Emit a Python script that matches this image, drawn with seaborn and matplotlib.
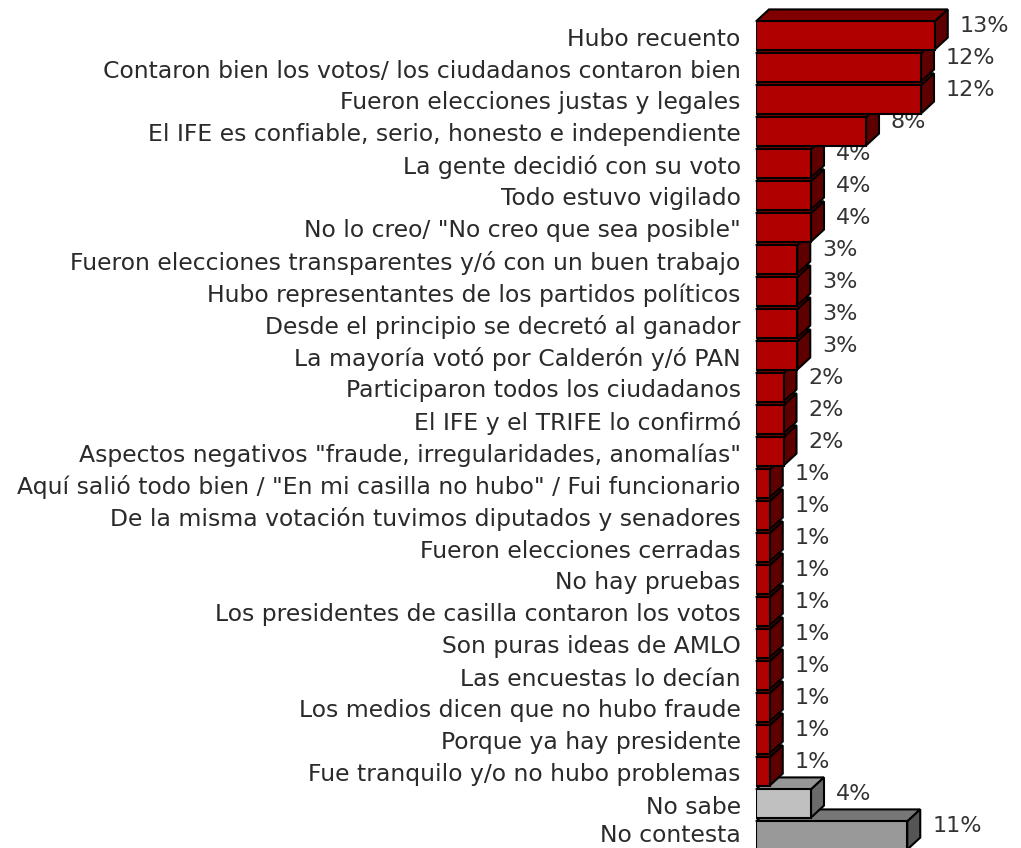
import numpy as np
import matplotlib
matplotlib.use('Agg')
import matplotlib.pyplot as plt
import matplotlib.transforms as mtrans
import seaborn as sns
from matplotlib.patches import Polygon

# respuestas y porcentajes
labels = ['Hubo recuento',
          'Contaron bien los votos/ los ciudadanos contaron bien',
          'Fueron elecciones justas y legales',
          'El IFE es confiable, serio, honesto e independiente',
          'La gente decidió con su voto',
          'Todo estuvo vigilado',
          'No lo creo/ "No creo que sea posible"',
          'Fueron elecciones transparentes y/ó con un buen trabajo',
          'Hubo representantes de los partidos políticos',
          'Desde el principio se decretó al ganador',
          'La mayoría votó por Calderón y/ó PAN',
          'Participaron todos los ciudadanos',
          'El IFE y el TRIFE lo confirmó',
          'Aspectos negativos "fraude, irregularidades, anomalías"',
          'Aquí salió todo bien / "En mi casilla no hubo" / Fui funcionario',
          'De la misma votación tuvimos diputados y senadores',
          'Fueron elecciones cerradas',
          'No hay pruebas',
          'Los presidentes de casilla contaron los votos',
          'Son puras ideas de AMLO',
          'Las encuestas lo decían',
          'Los medios dicen que no hubo fraude',
          'Porque ya hay presidente',
          'Fue tranquilo y/o no hubo problemas',
          'No sabe',
          'No contesta']
values = [13, 12, 12, 8, 4, 4, 4, 3, 3, 3, 3, 2, 2, 2, 1, 1, 1, 1, 1, 1, 1, 1, 1, 1, 4, 11]

# colores: frente, arriba, lado
red = ('#b00000', '#800000', '#5e0000')
light = ('#c0c0c0', '#969696', '#6a6a6a')
dark = ('#999999', '#777777', '#555555')
face_cols = [red] * 24 + [light, dark]

fig = plt.figure(figsize=(10.21, 8.48), dpi=100)
ax = fig.add_axes([756 / 1021, 0, 265 / 1021, 1])

sns.barplot(x=values, y=labels, hue=labels, palette=[c[0] for c in face_cols],
            orient='h', width=0.88, edgecolor='black', linewidth=1.5,
            saturation=1, legend=False, ax=ax)

ax.set_xlim(0, 265 / 13.75)
ax.set_ylim(25 + 12.5 / 32, -35.5 / 32)

dx = 13 / 13.75
dy = 12 / 32

for p in ax.patches:
    w = p.get_width()
    yt = p.get_y()
    yb = yt + p.get_height()
    i = int(round(yt + p.get_height() / 2))
    col = face_cols[i]
    z = 50 - i
    top = Polygon([(0, yt), (w, yt), (w + dx, yt - dy), (dx, yt - dy)],
                  closed=True, facecolor=col[1], edgecolor='black', linewidth=1.5,
                  zorder=z, clip_on=False)
    side = Polygon([(w, yt), (w + dx, yt - dy), (w + dx, yb - dy), (w, yb)],
                   closed=True, facecolor=col[2], edgecolor='black', linewidth=1.5,
                   zorder=z, clip_on=False)
    ax.add_patch(top)
    ax.add_patch(side)
    p.set_zorder(z + 0.5)
    ax.text(w + dx + 12 / 13.75, i - 0.3, f'{values[i]}%', ha='left', va='center',
            fontsize=16, color='#333333', zorder=1)

ax.set_xlabel('')
ax.set_ylabel('')
ax.set_xticks([])
ax.tick_params(axis='y', length=0, pad=11, labelsize=16.9, labelcolor='#2a2a2a')
ticklabels = ax.get_yticklabels()
for t in ticklabels[:-1]:
    t.set_transform(t.get_transform() + mtrans.ScaledTranslation(0, -1 / 100, fig.dpi_scale_trans))
# la última etiqueta queda pegada al borde inferior
ticklabels[-1].set_transform(ticklabels[-1].get_transform() + mtrans.ScaledTranslation(0, 3 / 100, fig.dpi_scale_trans))
for s in ax.spines.values():
    s.set_visible(False)
ax.patch.set_alpha(0)

plt.savefig('out.png', dpi=100)
